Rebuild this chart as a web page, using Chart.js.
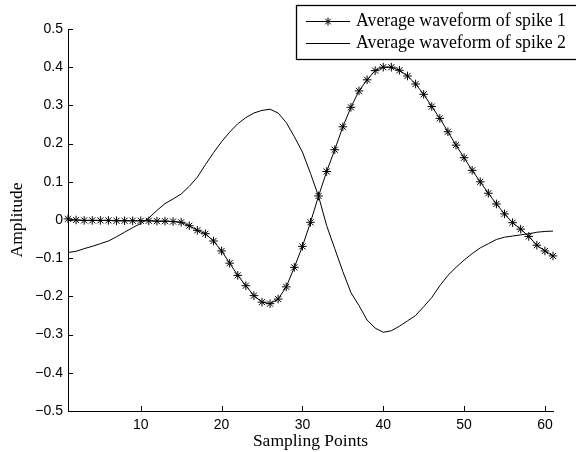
<!DOCTYPE html>
<html>
<head>
<meta charset="utf-8">
<script src="https://cdn.jsdelivr.net/npm/chart.js@4/dist/chart.umd.min.js"></script>
<style>
  html, body { margin: 0; padding: 0; background: #fff; }
  #wrap { width: 576px; height: 452px; }
</style>
</head>
<body>
<div id="wrap"><canvas id="c" width="576" height="452"></canvas></div>
<script>
// Sampling point indices
const samplePoints = [
  1, 2, 3, 4, 5, 6, 7, 8, 9, 10, 11, 12, 13, 14, 15, 16, 17, 18, 19, 20,
  21, 22, 23, 24, 25, 26, 27, 28, 29, 30, 31, 32, 33, 34, 35, 36, 37, 38, 39, 40,
  41, 42, 43, 44, 45, 46, 47, 48, 49, 50, 51, 52, 53, 54, 55, 56, 57, 58, 59, 60, 61
];

// Average waveform of spike 1
const spike1 = [
  0.003, 0.000, -0.001, -0.001, -0.001, -0.001, -0.002, -0.002, -0.002, -0.002,
  -0.002, -0.003, -0.003, -0.004, -0.006, -0.015, -0.027, -0.036, -0.055, -0.081,
  -0.113, -0.145, -0.172, -0.198, -0.215, -0.219, -0.207, -0.175, -0.124, -0.069,
  -0.006, 0.063, 0.127, 0.184, 0.244, 0.295, 0.338, 0.367, 0.391, 0.400,
  0.400, 0.392, 0.377, 0.356, 0.329, 0.297, 0.266, 0.231, 0.196, 0.163,
  0.130, 0.100, 0.070, 0.042, 0.016, -0.007, -0.024, -0.043, -0.066, -0.081, -0.094
];

// Average waveform of spike 2
const spike2 = [
  -0.085, -0.082, -0.075, -0.069, -0.062, -0.055, -0.044, -0.032, -0.020, -0.009,
  0.005, 0.025, 0.043, 0.055, 0.068, 0.088, 0.112, 0.145, 0.176, 0.205,
  0.230, 0.252, 0.268, 0.280, 0.287, 0.290, 0.280, 0.255, 0.218, 0.178,
  0.122, 0.062, -0.015, -0.075, -0.135, -0.190, -0.224, -0.262, -0.283, -0.294,
  -0.290, -0.278, -0.264, -0.250, -0.227, -0.203, -0.172, -0.145, -0.124, -0.105,
  -0.088, -0.073, -0.062, -0.051, -0.045, -0.042, -0.039, -0.036, -0.032, -0.030, -0.029
];

const seriesLabels = ['Average waveform of spike 1', 'Average waveform of spike 2'];
const xTickValues = [10, 20, 30, 40, 50, 60];
const yTickValues = [-0.5, -0.4, -0.3, -0.2, -0.1, 0, 0.1, 0.2, 0.3, 0.4, 0.5];
const xTitle = 'Sampling Points';
const yTitle = 'Amplitude';

const SANS = '"Liberation Sans", Arial, sans-serif';
const SERIF = '"Liberation Serif", "Times New Roman", serif';

const toXY = (vals) => vals.map((v, i) => ({ x: samplePoints[i], y: v }));

function fmtY(value) {
  const v = Math.round(value * 10) / 10;
  if (v === 0) return '0';
  return (v < 0 ? '\u2212' : '') + Math.abs(v).toString();
}

// Inward tick marks plus the boxed legend in the upper right
const framePlugin = {
  id: 'framePlugin',
  afterDraw(chart) {
    const { ctx, chartArea: a } = chart;
    const xs = chart.scales.x, ys = chart.scales.y;
    ctx.save();
    ctx.strokeStyle = '#000';
    ctx.lineWidth = 1;
    ctx.beginPath();
    xs.ticks.forEach(t => {
      const px = Math.round(xs.getPixelForValue(t.value)) + 0.5;
      ctx.moveTo(px, a.bottom);
      ctx.lineTo(px, a.bottom - 5);
    });
    ys.ticks.forEach(t => {
      const py = Math.round(ys.getPixelForValue(t.value)) + 0.5;
      ctx.moveTo(a.left, py);
      ctx.lineTo(a.left + 5, py);
    });
    ctx.stroke();

    // legend box
    const bx = 296.5, by = 5.5, bw = 290, bh = 54;
    ctx.fillStyle = '#fff';
    ctx.fillRect(bx, by, bw, bh);
    ctx.lineWidth = 1.3;
    ctx.strokeRect(bx, by, bw, bh);

    const rows = [21, 43];
    chart.data.datasets.forEach((ds, i) => {
      const y = rows[i] + 0.5;
      ctx.strokeStyle = '#000';
      ctx.lineWidth = 1;
      ctx.beginPath();
      ctx.moveTo(306, y);
      ctx.lineTo(350, y);
      ctx.stroke();
      if (ds.pointRadius > 0) {
        Chart.helpers.drawPoint(ctx, {
          pointStyle: 'star', radius: 4, borderWidth: 1, rotation: 0
        }, 328, y);
      }
      ctx.fillStyle = '#000';
      ctx.font = '17.8px ' + SERIF;
      ctx.textAlign = 'left';
      ctx.textBaseline = 'middle';
      ctx.fillText(ds.label, 356, y);
    });
    ctx.restore();
  }
};

new Chart(document.getElementById('c'), {
  type: 'line',
  data: {
    datasets: [
      {
        label: seriesLabels[0],
        data: toXY(spike1),
        borderColor: '#000',
        borderWidth: 1,
        pointStyle: 'star',
        pointRadius: 4.3,
        pointBorderColor: '#000',
        pointBorderWidth: 1,
        pointBackgroundColor: '#000',
        tension: 0,
        clip: false
      },
      {
        label: seriesLabels[1],
        data: toXY(spike2),
        borderColor: '#000',
        borderWidth: 1,
        pointRadius: 0,
        tension: 0,
        clip: false
      }
    ]
  },
  options: {
    responsive: false,
    animation: false,
    devicePixelRatio: 1,
    layout: { padding: { left: 0, top: 29, right: 23, bottom: 0 } },
    plugins: {
      legend: { display: false },
      tooltip: { enabled: false }
    },
    scales: {
      x: {
        type: 'linear',
        min: 1,
        max: 61,
        afterBuildTicks: (s) => { s.ticks = xTickValues.map(v => ({ value: v })); },
        afterFit: (s) => { s.height = 41; },
        grid: { display: false, drawTicks: false },
        border: { display: true, color: '#000', width: 1 },
        ticks: {
          color: '#000',
          padding: 6,
          maxRotation: 0,
          font: { family: SANS, size: 14 },
          callback: (v) => String(v)
        },
        title: {
          display: true,
          text: xTitle,
          color: '#000',
          padding: { top: 0, bottom: 0 },
          font: { family: SERIF, size: 17.5 }
        }
      },
      y: {
        type: 'linear',
        min: -0.5,
        max: 0.5,
        afterBuildTicks: (s) => { s.ticks = yTickValues.map(v => ({ value: v })); },
        afterFit: (s) => { s.width = 68; },
        grid: { display: false, drawTicks: false },
        border: { display: true, color: '#000', width: 1 },
        ticks: {
          color: '#000',
          padding: 5,
          font: { family: SANS, size: 14 },
          callback: (v) => fmtY(v)
        },
        title: {
          display: true,
          text: yTitle,
          color: '#000',
          padding: { top: 6.5, bottom: 0 },
          font: { family: SERIF, size: 17.5 }
        }
      }
    }
  },
  plugins: [framePlugin]
});
</script>
</body>
</html>
